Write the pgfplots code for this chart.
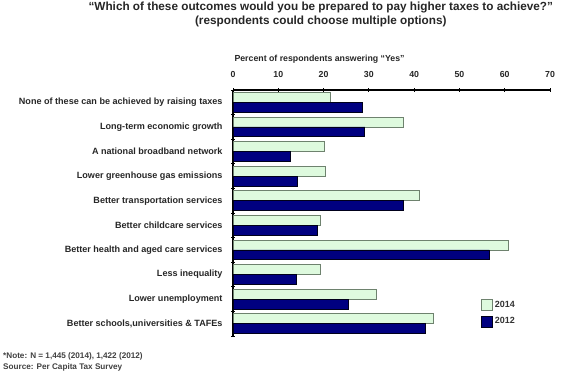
\documentclass[border=0pt]{standalone}
\usepackage{pgfplots}
\pgfplotsset{compat=1.18}
\usepackage{fontspec}
\setmainfont{Liberation Sans}
\definecolor{lgreen}{RGB}{222,250,222}
\definecolor{gborder}{RGB}{110,130,110}
\definecolor{navyb}{RGB}{0,0,128}
\begin{document}
\begin{tikzpicture}
\begin{axis}[
  scale only axis, width=317bp, height=246bp,
  xmin=0, xmax=70, ymin=-0.5, ymax=9.5, y dir=reverse,
  axis x line*=top, axis y line*=left,
  axis line style={black, line width=1.2bp},
  xtick={0,10,...,70},
  ytick={0,...,9},
  yticklabels={None of these can be achieved by raising taxes,
    Long-term economic growth,
    A national broadband network,
    Lower greenhouse gas emissions,
    Better transportation services,
    Better childcare services,
    Better health and aged care services,
    Less inequality,
    Lower unemployment,
    {Better schools,universities \& TAFEs}},
  minor ytick={-0.5,0.5,...,9.5},
  major y tick style={draw=none},
  minor y tick style={black, line width=1bp},
  x tick style={black, line width=1bp},
  tick align=center,
  major tick length=4bp, minor tick length=4bp,
  /pgf/number format/assume math mode=true,
  xticklabel style={font=\fontsize{8.8}{10}\selectfont\bfseries, text=black!85, yshift=7bp},
  yticklabel style={font=\fontsize{9.1}{10}\selectfont\bfseries, text=black!85, xshift=-5bp},
  xlabel={Percent of respondents answering “Yes”},
  xlabel style={at={(axis description cs:0,1)}, anchor=base west, yshift=29bp, xshift=-2bp, font=\fontsize{8.8}{10}\selectfont\bfseries, text=black!85},
  clip=false,
  legend style={at={(axis description cs:0.782,0.152)}, anchor=north west, draw=none, fill=none,
    font=\fontsize{9}{10}\selectfont\bfseries, row sep=5bp, text=black!80, inner xsep=0pt, inner ysep=0pt},
  legend cell align=left,
  legend image code/.code={\draw[#1] (0bp,-5.5bp) rectangle (11bp,5.5bp);},
]
\addplot[xbar, bar width=0.4, bar shift=-0.2, fill=lgreen, draw=gborder, line width=0.8bp]
  coordinates {(21.6,0) (37.6,1) (20.1,2) (20.5,3) (41.1,4) (19.2,5) (60.8,6) (19.2,7) (31.6,8) (44.2,9)};
\addplot[xbar, bar width=0.4, bar shift=0.2, fill=navyb, draw=black!80!navyb, line width=0.8bp]
  coordinates {(28.6,0) (29.1,1) (12.6,2) (14.3,3) (37.6,4) (18.6,5) (56.6,6) (14.1,7) (25.4,8) (42.4,9)};
\legend{2014,2012}
\coordinate (bl) at (axis description cs:0,0);
\coordinate (tr) at (axis description cs:1,1);
\node[anchor=north, align=center, font=\fontsize{11.8}{14}\selectfont\bfseries, text=black!85, inner sep=0pt]
  at (axis description cs:0.277,1) [yshift=88bp] {“Which of these outcomes would you be prepared to pay higher taxes to achieve?”\\(respondents could choose multiple options)};
\node[anchor=north west, align=left, font=\fontsize{8.2}{11}\selectfont\bfseries, text=black!75, inner sep=0pt]
  at (axis description cs:0,0) [xshift=-230bp, yshift=-16bp] {*Note: N = 1,445 (2014), 1,422 (2012)\\Source: Per Capita Tax Survey};
\end{axis}
\pgfresetboundingbox
\path[use as bounding box] ([shift={(-233bp,-43bp)}]bl) rectangle ([shift={(18bp,90bp)}]tr);
\end{tikzpicture}
\end{document}
